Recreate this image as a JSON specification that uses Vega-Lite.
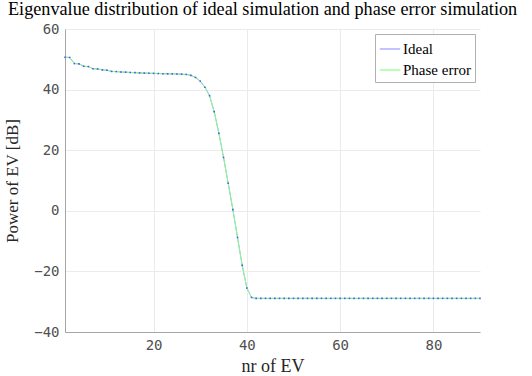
{
  "$schema": "https://vega.github.io/schema/vega-lite/v6.json",
  "autosize": "none",
  "width": 415,
  "height": 303,
  "padding": {"left": 65, "top": 29, "right": 52, "bottom": 44},
  "background": "white",
  "title": {
    "text": "Eigenvalue distribution of ideal simulation and phase error simulation",
    "font": "Liberation Serif",
    "fontSize": 18.2,
    "fontWeight": "normal",
    "color": "#000000",
    "anchor": "start",
    "frame": "group",
    "dx": -57,
    "offset": 3
  },
  "data": {"values": [
    {"n":1,"ideal":50.7,"phase":50.7},{"n":2,"ideal":50.6,"phase":50.6},{"n":3,"ideal":48.6,"phase":48.6},{"n":4,"ideal":48.5,"phase":48.5},{"n":5,"ideal":47.7,"phase":47.7},
    {"n":6,"ideal":47.6,"phase":47.6},{"n":7,"ideal":46.9,"phase":46.9},{"n":8,"ideal":46.8,"phase":46.8},{"n":9,"ideal":46.5,"phase":46.5},{"n":10,"ideal":46.4,"phase":46.4},
    {"n":11,"ideal":46.0,"phase":46.0},{"n":12,"ideal":45.95,"phase":45.95},{"n":13,"ideal":45.8,"phase":45.8},{"n":14,"ideal":45.75,"phase":45.75},{"n":15,"ideal":45.65,"phase":45.65},
    {"n":16,"ideal":45.6,"phase":45.6},{"n":17,"ideal":45.5,"phase":45.5},{"n":18,"ideal":45.45,"phase":45.45},{"n":19,"ideal":45.4,"phase":45.4},{"n":20,"ideal":45.35,"phase":45.35},
    {"n":21,"ideal":45.3,"phase":45.3},{"n":22,"ideal":45.25,"phase":45.25},{"n":23,"ideal":45.2,"phase":45.2},{"n":24,"ideal":45.2,"phase":45.2},{"n":25,"ideal":45.15,"phase":45.15},
    {"n":26,"ideal":45.1,"phase":45.1},{"n":27,"ideal":45.0,"phase":45.0},{"n":28,"ideal":44.7,"phase":44.7},{"n":29,"ideal":44.0,"phase":44.0},{"n":30,"ideal":42.8,"phase":42.8},
    {"n":31,"ideal":40.8,"phase":40.8},{"n":32,"ideal":38.0,"phase":38.0},{"n":33,"ideal":32.7,"phase":32.7},{"n":34,"ideal":25.6,"phase":25.6},{"n":35,"ideal":17.6,"phase":17.6},
    {"n":36,"ideal":9.1,"phase":9.1},{"n":37,"ideal":0.4,"phase":0.4},{"n":38,"ideal":-8.8,"phase":-8.8},{"n":39,"ideal":-18.0,"phase":-18.0},{"n":40,"ideal":-25.5,"phase":-25.5},
    {"n":41,"ideal":-28.6,"phase":-28.6},{"n":42,"ideal":-28.9,"phase":-28.9},{"n":43,"ideal":-28.9,"phase":-28.9},{"n":44,"ideal":-28.9,"phase":-28.9},{"n":45,"ideal":-28.9,"phase":-28.9},
    {"n":46,"ideal":-28.9,"phase":-28.9},{"n":47,"ideal":-28.9,"phase":-28.9},{"n":48,"ideal":-28.9,"phase":-28.9},{"n":49,"ideal":-28.9,"phase":-28.9},{"n":50,"ideal":-28.9,"phase":-28.9},
    {"n":51,"ideal":-28.9,"phase":-28.9},{"n":52,"ideal":-28.9,"phase":-28.9},{"n":53,"ideal":-28.9,"phase":-28.9},{"n":54,"ideal":-28.9,"phase":-28.9},{"n":55,"ideal":-28.9,"phase":-28.9},
    {"n":56,"ideal":-28.9,"phase":-28.9},{"n":57,"ideal":-28.9,"phase":-28.9},{"n":58,"ideal":-28.9,"phase":-28.9},{"n":59,"ideal":-28.9,"phase":-28.9},{"n":60,"ideal":-28.9,"phase":-28.9},
    {"n":61,"ideal":-28.9,"phase":-28.9},{"n":62,"ideal":-28.9,"phase":-28.9},{"n":63,"ideal":-28.9,"phase":-28.9},{"n":64,"ideal":-28.9,"phase":-28.9},{"n":65,"ideal":-28.9,"phase":-28.9},
    {"n":66,"ideal":-28.9,"phase":-28.9},{"n":67,"ideal":-28.9,"phase":-28.9},{"n":68,"ideal":-28.9,"phase":-28.9},{"n":69,"ideal":-28.9,"phase":-28.9},{"n":70,"ideal":-28.9,"phase":-28.9},
    {"n":71,"ideal":-28.9,"phase":-28.9},{"n":72,"ideal":-28.9,"phase":-28.9},{"n":73,"ideal":-28.9,"phase":-28.9},{"n":74,"ideal":-28.9,"phase":-28.9},{"n":75,"ideal":-28.9,"phase":-28.9},
    {"n":76,"ideal":-28.9,"phase":-28.9},{"n":77,"ideal":-28.9,"phase":-28.9},{"n":78,"ideal":-28.9,"phase":-28.9},{"n":79,"ideal":-28.9,"phase":-28.9},{"n":80,"ideal":-28.9,"phase":-28.9},
    {"n":81,"ideal":-28.9,"phase":-28.9},{"n":82,"ideal":-28.9,"phase":-28.9},{"n":83,"ideal":-28.9,"phase":-28.9},{"n":84,"ideal":-28.9,"phase":-28.9},{"n":85,"ideal":-28.9,"phase":-28.9},
    {"n":86,"ideal":-28.9,"phase":-28.9},{"n":87,"ideal":-28.9,"phase":-28.9},{"n":88,"ideal":-28.9,"phase":-28.9},{"n":89,"ideal":-28.9,"phase":-28.9},{"n":90,"ideal":-28.9,"phase":-28.9}
  ]},
  "encoding": {
    "x": {
      "field": "n", "type": "quantitative",
      "scale": {"domain": [1, 90], "nice": false, "zero": false},
      "axis": {
        "title": "nr of EV", "values": [20, 40, 60, 80],
        "titleFont": "Liberation Serif", "titleFontSize": 18, "titleFontWeight": "normal", "titleColor": "#262626", "titlePadding": 5,
        "labelFont": "DejaVu Sans Mono", "labelFontSize": 14, "labelColor": "#505050", "labelPadding": 6,
        "domainColor": "#a6a6a6", "tickSize": 0, "gridColor": "#ebebeb", "grid": true
      }
    }
  },
  "layer": [
    {
      "mark": {"type": "line", "strokeWidth": 1},
      "encoding": {
        "y": {
          "field": "ideal", "type": "quantitative",
          "scale": {"domain": [-40, 60], "nice": false},
          "axis": {
            "title": "Power of EV [dB]", "values": [-40, -20, 0, 20, 40, 60],
            "titleFont": "Liberation Serif", "titleFontSize": 17, "titleFontWeight": "normal", "titleColor": "#262626", "titlePadding": 12,
            "labelFont": "DejaVu Sans Mono", "labelFontSize": 14, "labelColor": "#505050", "labelPadding": 6,
            "domainColor": "#a6a6a6", "tickSize": 0, "gridColor": "#ebebeb", "grid": true
          }
        },
        "color": {"datum": "Ideal", "type": "nominal",
          "scale": {"domain": ["Ideal", "Phase error"], "range": ["#9a9aff", "#88ff88"]},
          "legend": {
            "title": null, "orient": "top-right", "offset": 5,
            "labelFont": "Liberation Serif", "labelFontSize": 15, "labelColor": "#000000",
            "symbolType": "stroke", "symbolSize": 420, "symbolStrokeWidth": 1.2,
            "strokeColor": "#b0b0b0", "fillColor": "#ffffff", "padding": 4, "rowPadding": 2, "labelOffset": 2
          }
        }
      }
    },
    {
      "mark": {"type": "line", "strokeWidth": 1},
      "encoding": {
        "y": {"field": "phase", "type": "quantitative"},
        "color": {"datum": "Phase error", "type": "nominal"}
      }
    },
    {
      "mark": {"type": "square", "size": 2.5, "filled": true, "color": "#3b3bff", "opacity": 0.85},
      "encoding": {
        "y": {"field": "ideal", "type": "quantitative"}
      }
    }
  ],
  "config": {"view": {"stroke": null}}
}
